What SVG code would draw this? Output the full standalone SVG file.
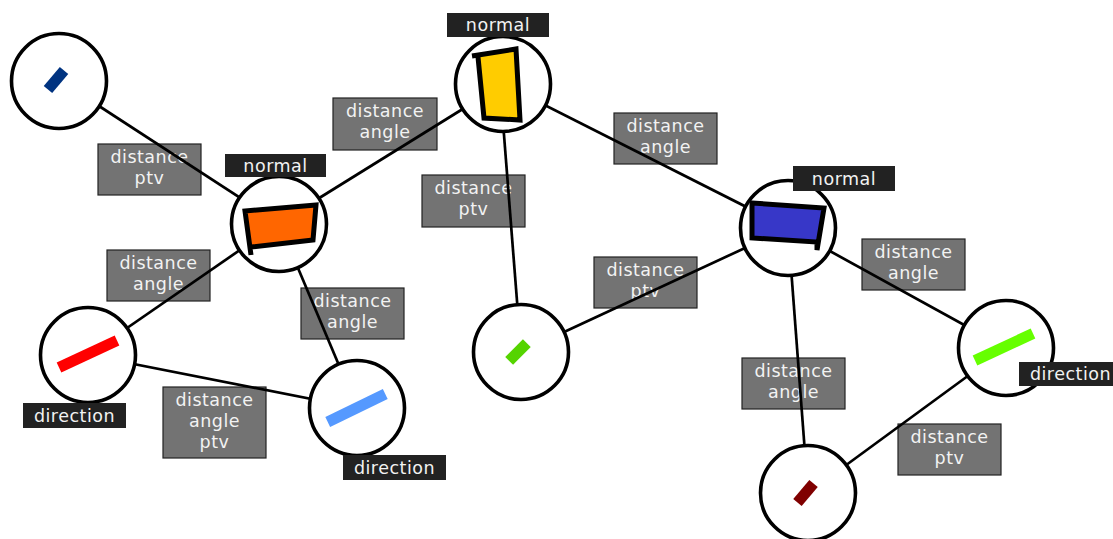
<svg xmlns="http://www.w3.org/2000/svg" width="1113" height="539" viewBox="0 0 1113 539">
<style>
.lbl rect{fill:#737373;stroke:#222;stroke-width:1.2}
.tag rect{fill:#222}
text{font-family:"DejaVu Sans",sans-serif;font-size:17.5px;letter-spacing:0.5px;fill:#f2f2f2;text-anchor:middle}
.edges line{stroke:#000;stroke-width:2.7}
.node circle{fill:#fff;stroke:#000;stroke-width:3.6}
.shape{stroke:#000;stroke-width:5;stroke-linejoin:miter}
</style>
<rect width="1113" height="539" fill="#fff"/>
<g id="labels">
<g class="lbl"><rect x="98" y="144" width="103" height="51"/><text x="149.5" y="163">distance</text><text x="149.5" y="184">ptv</text></g>
<g class="lbl"><rect x="333" y="98" width="104" height="52"/><text x="385" y="117">distance</text><text x="385" y="138">angle</text></g>
<g class="lbl"><rect x="422" y="175" width="103" height="52"/><text x="473.5" y="194">distance</text><text x="473.5" y="215">ptv</text></g>
<g class="lbl"><rect x="614" y="113" width="103" height="51"/><text x="665.5" y="132">distance</text><text x="665.5" y="153">angle</text></g>
<g class="lbl"><rect x="594" y="257" width="103" height="51"/><text x="645.5" y="276">distance</text><text x="645.5" y="297">ptv</text></g>
<g class="lbl"><rect x="862" y="239" width="103" height="51"/><text x="913.5" y="258">distance</text><text x="913.5" y="279">angle</text></g>
<g class="lbl"><rect x="107" y="250" width="103" height="51"/><text x="158.5" y="269">distance</text><text x="158.5" y="290">angle</text></g>
<g class="lbl"><rect x="301" y="288" width="103" height="51"/><text x="352.5" y="307">distance</text><text x="352.5" y="328">angle</text></g>
<g class="lbl"><rect x="163" y="387" width="103" height="71"/><text x="214.5" y="406">distance</text><text x="214.5" y="427">angle</text><text x="214.5" y="448">ptv</text></g>
<g class="lbl"><rect x="742" y="358" width="103" height="51"/><text x="793.5" y="377">distance</text><text x="793.5" y="398">angle</text></g>
<g class="lbl"><rect x="898" y="424" width="103" height="51"/><text x="949.5" y="443">distance</text><text x="949.5" y="464">ptv</text></g>
</g>
<g id="connectors" class="edges">
<line x1="59" y1="80" x2="279" y2="223"/>
<line x1="279" y1="223" x2="503" y2="84"/>
<line x1="279" y1="223" x2="88" y2="355"/>
<line x1="279" y1="223" x2="357" y2="408"/>
<line x1="88" y1="355" x2="357" y2="408"/>
<line x1="500" y1="84" x2="521" y2="352"/>
<line x1="503" y1="84" x2="788" y2="228"/>
<line x1="788" y1="228" x2="521" y2="352"/>
<line x1="788" y1="228" x2="1006" y2="348"/>
<line x1="788" y1="228" x2="808" y2="493"/>
<line x1="1006" y1="348" x2="808" y2="493"/>
</g>
<g id="n1" class="node"><circle cx="59" cy="81" r="47.5"/><rect x="-12.5" y="-5.5" width="25" height="11" fill="#003380" transform="translate(56 80) rotate(-50)"/></g>
<g id="n2" class="node"><circle cx="279" cy="224" r="47.5"/><path class="shape" fill="#ff6600" d="M251 255 L245 211 L316 205 L313 240 L251 247"/>
<g class="tag"><rect x="225" y="154" width="101" height="23"/><text x="275.5" y="172">normal</text></g></g>
<g id="n3" class="node"><circle cx="503" cy="84" r="47.5"/><path class="shape" fill="#ffcc00" d="M472 56 L516 49 L520 120 L484 118 L478 57"/>
<g class="tag"><rect x="447" y="13" width="102" height="24"/><text x="498" y="31">normal</text></g></g>
<g id="n4" class="node"><circle cx="788" cy="228" r="47.5"/><path class="shape" fill="#3737c8" d="M752 203 L824 208 L817 250 L817 242 L752 238 Z"/>
<g class="tag"><rect x="793" y="166" width="102" height="25"/><text x="844" y="185">normal</text></g></g>
<g id="n5" class="node"><circle cx="88" cy="355" r="47.5"/><rect x="-32" y="-5.5" width="64" height="11" fill="#ff0000" transform="translate(88 354) rotate(-25)"/>
<g class="tag"><rect x="23" y="403" width="103" height="25"/><text x="74.5" y="422">direction</text></g></g>
<g id="n6" class="node"><circle cx="357" cy="408" r="47.5"/><rect x="-32" y="-5.5" width="64" height="11" fill="#5599ff" transform="translate(356.5 408) rotate(-26)"/>
<g class="tag"><rect x="343" y="455" width="103" height="25"/><text x="394.5" y="474">direction</text></g></g>
<g id="n7" class="node"><circle cx="521" cy="352" r="47.5"/><rect x="-12.5" y="-5.5" width="25" height="11" fill="#55d400" transform="translate(518 352) rotate(-45)"/></g>
<g id="n8" class="node"><circle cx="1006" cy="348" r="47.5"/><rect x="-32" y="-5.5" width="64" height="11" fill="#66ff00" transform="translate(1004 347) rotate(-25)"/>
<g class="tag"><rect x="1019" y="362" width="103" height="24"/><text x="1070.5" y="380">direction</text></g></g>
<g id="n9" class="node"><circle cx="808" cy="493" r="47.5"/><rect x="-12.5" y="-5.5" width="25" height="11" fill="#800000" transform="translate(805.5 493) rotate(-50)"/></g>
</svg>
